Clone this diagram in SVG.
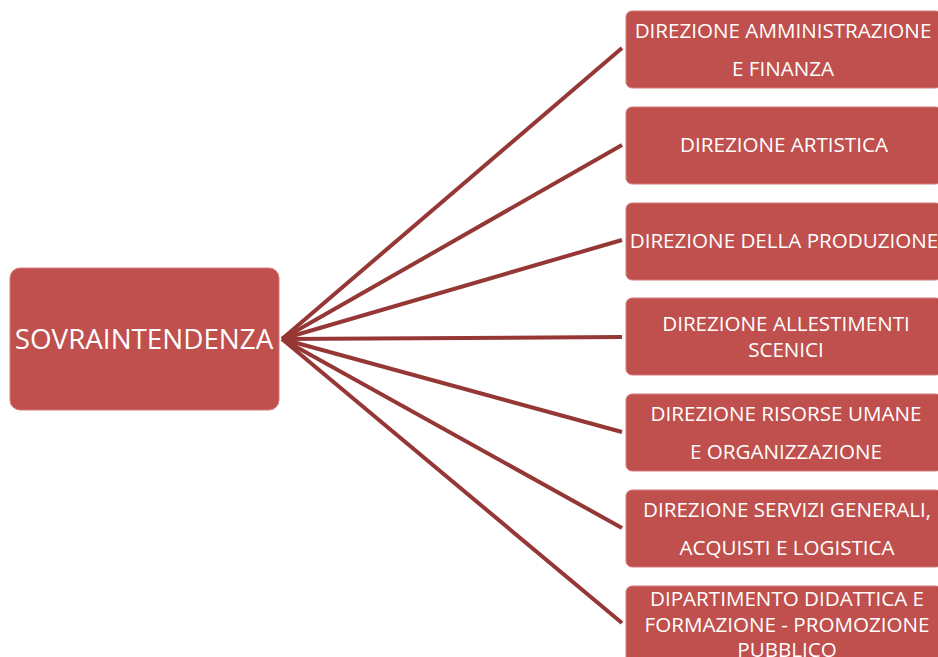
<svg xmlns="http://www.w3.org/2000/svg" width="938" height="657" viewBox="0 0 938 657">
<style>
.box{fill:#C0504D;stroke:#D47C79;stroke-width:1}
.t{fill:#fff;font-family:"Open Sans","Liberation Sans",sans-serif;font-size:20.6px;text-anchor:middle}
.main{font-size:27.8px}
.c line{stroke:#953735;stroke-width:4;stroke-linecap:butt}
</style>
<rect width="938" height="657" fill="#fff"/>
<g class="c" id="connectors">
<line x1="282" y1="339" x2="622" y2="48"/>
<line x1="282" y1="339" x2="622" y2="145"/>
<line x1="282" y1="339" x2="622" y2="240"/>
<line x1="282" y1="339" x2="622" y2="337"/>
<line x1="282" y1="339" x2="622" y2="432"/>
<line x1="282" y1="339" x2="622" y2="528"/>
<line x1="282" y1="339" x2="622" y2="623"/>
</g>
<g id="n0"><rect class="box" x="10" y="268" width="269" height="142" rx="10"/><text class="t main" x="144" y="349">SOVRAINTENDENZA</text></g>
<g id="n1"><rect class="box" x="626" y="11" width="316" height="77" rx="6"/><text class="t" x="783" y="38">DIREZIONE AMMINISTRAZIONE</text><text class="t" x="783" y="76">E FINANZA</text></g>
<g id="n2"><rect class="box" x="626" y="107" width="316" height="77" rx="6"/><text class="t" x="784" y="152">DIREZIONE ARTISTICA</text></g>
<g id="n3"><rect class="box" x="626" y="203" width="316" height="77" rx="6"/><text class="t" x="784" y="248">DIREZIONE DELLA PRODUZIONE</text></g>
<g id="n4"><rect class="box" x="626" y="298" width="316" height="77" rx="6"/><text class="t" x="786" y="331">DIREZIONE ALLESTIMENTI</text><text class="t" x="786" y="357">SCENICI</text></g>
<g id="n5"><rect class="box" x="626" y="394" width="316" height="77" rx="6"/><text class="t" x="786" y="421">DIREZIONE RISORSE UMANE</text><text class="t" x="786" y="459">E ORGANIZZAZIONE</text></g>
<g id="n6"><rect class="box" x="626" y="490" width="316" height="77" rx="6"/><text class="t" x="787" y="517">DIREZIONE SERVIZI GENERALI,</text><text class="t" x="787" y="555">ACQUISTI E LOGISTICA</text></g>
<g id="n7"><rect class="box" x="626" y="586" width="316" height="90" rx="6"/><text class="t" x="787" y="606">DIPARTIMENTO DIDATTICA E</text><text class="t" x="787" y="632">FORMAZIONE - PROMOZIONE</text><text class="t" x="787" y="657">PUBBLICO</text></g>
</svg>
